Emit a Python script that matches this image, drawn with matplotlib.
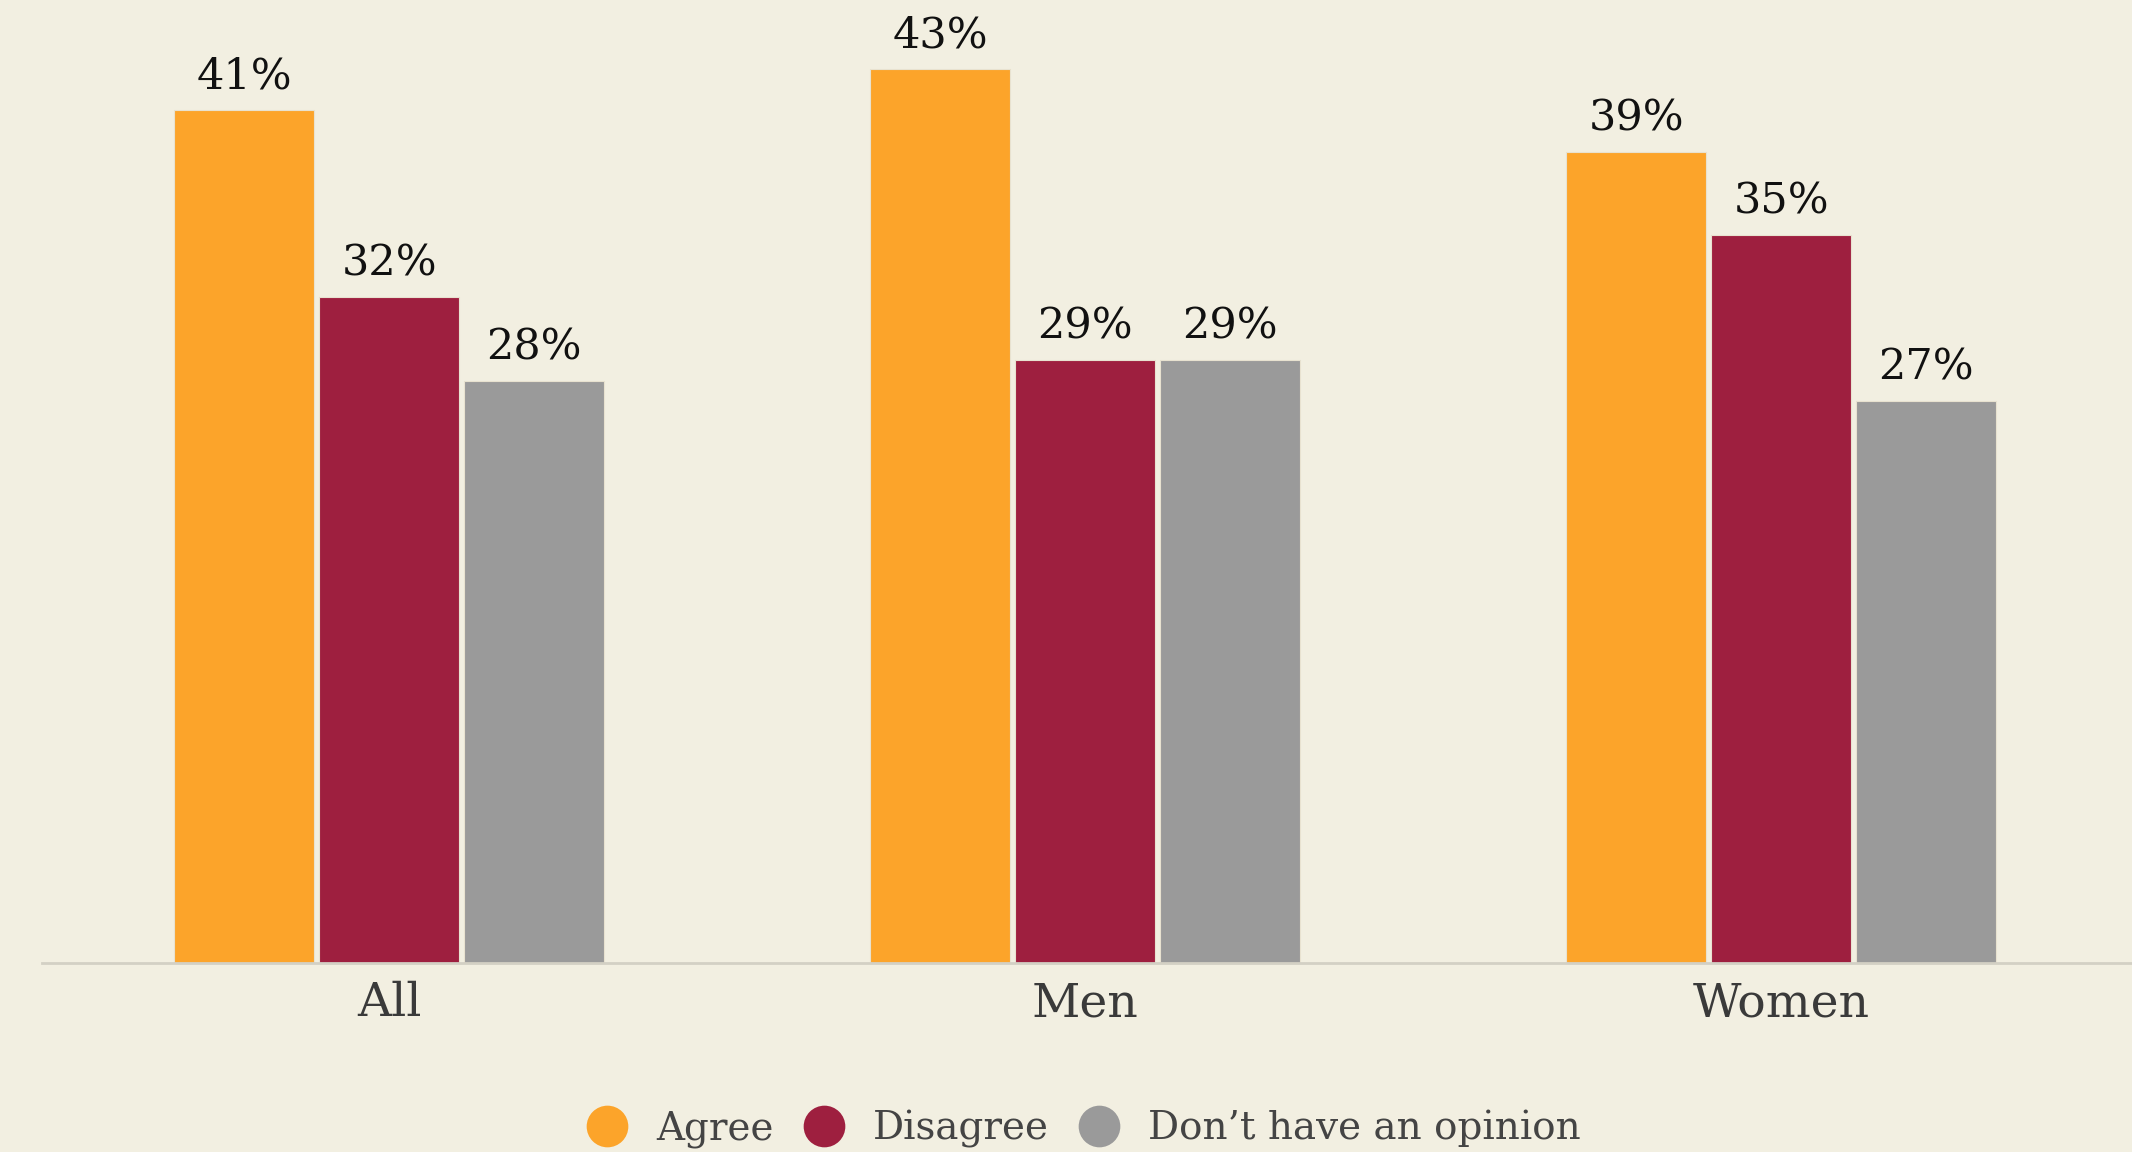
import matplotlib
matplotlib.use('Agg')
import matplotlib.pyplot as plt
from matplotlib.lines import Line2D
import numpy as np

groups = ['All', 'Men', 'Women']
series = ['Agree', 'Disagree', "Don\u2019t have an opinion"]
agree = [41, 43, 39]
disagree = [32, 29, 35]
no_opinion = [28, 29, 27]
colors = ['#FCA42A', '#9E1F3F', '#9A9A9A']

BG = '#F2EFE1'
plt.rcParams['font.family'] = 'DejaVu Serif'

fig = plt.figure(figsize=(21.32, 11.52), dpi=100, facecolor=BG)
ax = fig.add_axes([0.0197, 0.164, 0.9803, 0.836])
ax.set_facecolor(BG)

x = np.arange(len(groups))
step = 0.2083
width = 0.201
for i, (vals, col) in enumerate(zip([agree, disagree, no_opinion], colors)):
    pos = x + (i - 1) * step
    bars = ax.bar(pos, vals, width=width, color=col, edgecolor='#E8E2D0',
                  linewidth=0.8, zorder=2)
    for b, v in zip(bars, vals):
        ax.annotate(f'{v}%', (b.get_x() + b.get_width() / 2, v),
                    xytext=(0, 9), textcoords='offset points',
                    ha='center', va='bottom', fontsize=31, color='#111111')

ax.set_xlim(-0.499, 2.504)
ax.set_ylim(0, 46.3)
ax.set_xticks(x)
ax.set_xticklabels(groups, fontsize=34, color='#3A3A3A')
ax.tick_params(axis='x', length=0, pad=13)
ax.set_yticks([])
for s in ['top', 'right', 'left']:
    ax.spines[s].set_visible(False)
ax.spines['bottom'].set_color('#D3D0C4')
ax.spines['bottom'].set_linewidth(2)

handles = [Line2D([], [], marker='o', linestyle='none', markersize=30,
                  markerfacecolor=c, markeredgecolor='none') for c in colors]
fig.legend(handles, series, loc='center', bbox_to_anchor=(0.504, 0.02),
           ncol=3, frameon=False, handletextpad=0.25, columnspacing=0.3,
           prop={'size': 28}, labelcolor='#444444')

fig.savefig('out.png', dpi=100, facecolor=BG)
